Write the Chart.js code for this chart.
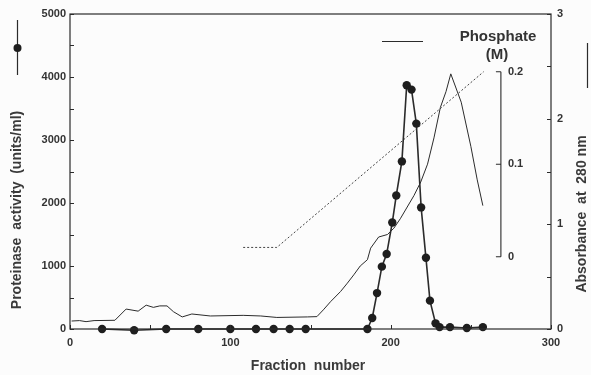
<!DOCTYPE html>
<html><head><meta charset="utf-8">
<script src="https://cdn.jsdelivr.net/npm/chart.js@4.4.1/dist/chart.umd.min.js"></script>
<style>html,body{margin:0;padding:0;background:#fcfcfc}#c{display:block}</style>
</head><body><canvas id="c" width="591" height="375"></canvas>
<script>
// ---- data ----
const proteinaseFractions = [20,40,60,80,100,116,127,137,147,185.5,188.5,191.5,194.5,197.5,201,203.5,207,210,213,216,219,222,224.5,228,230.5,237,247.5,257.5];
const proteinaseActivity  = [0,-20,0,0,0,0,0,0,0,0,175,570,990,1190,1690,2120,2660,3870,3800,3260,1930,1130,450,90,30,30,15,30];

const absorbanceFractions = [1,6,10,15,28,35,42.5,47.5,52,56,60.5,64.5,70,76,87.5,108,119,129,148,154,158,162.5,168.75,173,177,181,185.5,187.5,192.5,198,202,206,214.5,218.75,223,227,231,234.5,237.5,244,250,254,257.5];
const absorbanceValues    = [0.076,0.08,0.07,0.08,0.083,0.19,0.17,0.227,0.206,0.22,0.22,0.165,0.115,0.143,0.124,0.13,0.124,0.11,0.115,0.118,0.182,0.26,0.357,0.437,0.516,0.6,0.66,0.77,0.876,0.9,0.96,1.05,1.27,1.4,1.57,1.82,2.11,2.26,2.43,2.16,1.74,1.42,1.175];

const phosphateFractions = [108,129,258];
const phosphateMolar     = [0.01,0.01,0.2];

const leftTicks  = [0,1000,2000,3000,4000,5000];
const rightTicks = [0,1,2,3];
const xTicks     = [0,100,200,300];
const phosphateTicks = [0,0.1,0.2];
const phosphateTickLabels = ['0','0.1','0.2'];

// ---- styling ----
const INK = '#2b2b2b';
const TXT = '#333';
const FONT = '"Liberation Sans", Arial, sans-serif';

function pts(xs, ys){ return xs.map((x,i)=>({x:x, y:ys[i]})); }

const decor = {
  id: 'decor',
  afterDraw(chart){
    const {ctx, chartArea:a, scales} = chart;
    const x = scales.x, y = scales.y, y1 = scales.y1, yP = scales.yP;
    ctx.save();
    ctx.strokeStyle = INK; ctx.fillStyle = TXT;
    // frame
    ctx.lineWidth = 1.2;
    ctx.strokeRect(a.left, a.top, a.right - a.left, a.bottom - a.top);
    // inward ticks
    ctx.lineWidth = 1;
    ctx.beginPath();
    for (let v = 0; v <= 5000; v += 500){ const p = Math.round(y.getPixelForValue(v))+0.5; ctx.moveTo(a.left, p); ctx.lineTo(a.left+4, p); }
    for (let v = 0; v <= 3; v += 0.5){ const p = Math.round(y1.getPixelForValue(v))+0.5; ctx.moveTo(a.right, p); ctx.lineTo(a.right-4, p); }
    for (let v = 0; v <= 300; v += 50){ const p = Math.round(x.getPixelForValue(v))+0.5; ctx.moveTo(p, a.bottom); ctx.lineTo(p, a.bottom-4); }
    ctx.stroke();

    // phosphate bracket axis
    const bx = x.getPixelForValue(268.75);
    ctx.lineWidth = 1.1;
    ctx.beginPath();
    ctx.moveTo(bx, yP.getPixelForValue(phosphateTicks[0]));
    ctx.lineTo(bx, yP.getPixelForValue(phosphateTicks[phosphateTicks.length-1]));
    phosphateTicks.forEach(v=>{ const p = yP.getPixelForValue(v); ctx.moveTo(bx-5, p); ctx.lineTo(bx, p); });
    ctx.stroke();
    ctx.font = 'bold 11px ' + FONT;
    ctx.textAlign = 'left'; ctx.textBaseline = 'middle';
    phosphateTicks.forEach((v,i)=>{ ctx.fillText(phosphateTickLabels[i], bx+7, yP.getPixelForValue(v)); });

    // Phosphate (M) label
    ctx.font = 'bold 15px ' + FONT;
    ctx.textAlign = 'center';
    ctx.fillText('Phosphate', 498, 37);
    ctx.fillText('(M)', 497, 55);

    // legend glyphs
    ctx.lineWidth = 1.2;
    ctx.beginPath();
    ctx.moveTo(382, 41.5); ctx.lineTo(423, 41.5);
    ctx.moveTo(17.5, 20); ctx.lineTo(17.5, 75);
    ctx.moveTo(587.5, 43); ctx.lineTo(587.5, 88);
    ctx.stroke();
    ctx.fillStyle = '#1e1e1e';
    ctx.beginPath(); ctx.arc(17.5, 48, 4, 0, Math.PI*2); ctx.fill();

    // axis titles
    ctx.fillStyle = '#3a3a3a';
    ctx.font = 'bold 14px ' + FONT;
    ctx.textAlign = 'center'; ctx.textBaseline = 'middle';
    ctx.fillText('Fraction  number', 308, 366);
    ctx.save(); ctx.translate(17, 210); ctx.rotate(-Math.PI/2);
    ctx.fillText('Proteinase  activity  (units/ml)', 0, 0); ctx.restore();
    ctx.save(); ctx.translate(582, 214); ctx.rotate(-Math.PI/2);
    ctx.fillText('Absorbance  at  280 nm', 0, 0); ctx.restore();
    ctx.restore();
  }
};

const tickFont = {family: FONT, size: 11, weight: 'bold'};
const plain = v => String(v);

new Chart(document.getElementById('c'), {
  type: 'line',
  data: {
    datasets: [
      { label: 'Proteinase activity', data: pts(proteinaseFractions, proteinaseActivity), yAxisID: 'y',
        borderColor: INK, borderWidth: 1.6, pointRadius: 4.2, pointBackgroundColor: '#1e1e1e', pointBorderWidth: 0,
        tension: 0, clip: false, order: 1 },
      { label: 'Absorbance at 280 nm', data: pts(absorbanceFractions, absorbanceValues), yAxisID: 'y1',
        borderColor: INK, borderWidth: 1, pointRadius: 0, tension: 0, clip: false, order: 2 },
      { label: 'Phosphate (M)', data: pts(phosphateFractions, phosphateMolar), yAxisID: 'yP',
        borderColor: '#444', borderWidth: 1, borderDash: [2,2], pointRadius: 0, tension: 0, clip: false, order: 3 }
    ]
  },
  options: {
    responsive: false, animation: false, devicePixelRatio: 1,
    layout: { padding: { top: 14, left: 0, right: 0, bottom: 0 } },
    plugins: { legend: {display: false}, tooltip: {enabled: false} },
    scales: {
      x: { type: 'linear', min: 0, max: 300,
           afterBuildTicks: s => { s.ticks = xTicks.map(v=>({value:v})); },
           ticks: { font: tickFont, color: TXT, padding: 7, maxRotation: 0, callback: plain },
           grid: { display: false, drawTicks: false }, border: { display: false },
           afterFit: s => { s.height = 46; } },
      y: { position: 'left', min: 0, max: 5000,
           afterBuildTicks: s => { s.ticks = leftTicks.map(v=>({value:v})); },
           ticks: { font: tickFont, color: TXT, padding: 4, callback: plain },
           grid: { display: false, drawTicks: false }, border: { display: false },
           afterFit: s => { s.width = 70; } },
      y1: { position: 'right', min: 0, max: 3,
           afterBuildTicks: s => { s.ticks = rightTicks.map(v=>({value:v})); },
           ticks: { font: tickFont, color: TXT, padding: 6, callback: plain },
           grid: { display: false, drawTicks: false }, border: { display: false },
           afterFit: s => { s.width = 40; } },
      yP: { display: false, position: 'right', min: -0.0782, max: 0.2624 }
    }
  },
  plugins: [decor]
});
</script>
</body></html>
